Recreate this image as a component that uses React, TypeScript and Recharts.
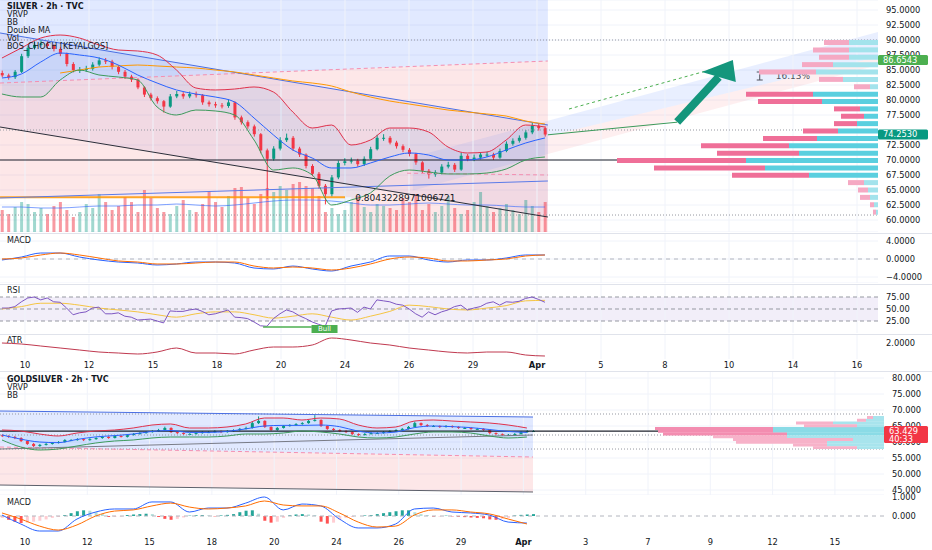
import React from "react"
import {
  ComposedChart,
  BarChart,
  Bar,
  Line,
  Area,
  XAxis,
  YAxis,
  CartesianGrid,
  ReferenceLine,
  ReferenceDot,
  ReferenceArea,
  Cell,
} from "recharts"

const W = 932
const FONT = "'DejaVu Sans', Verdana, sans-serif"
const INK = "#131722"
const UP = "#089981"
const DOWN = "#f23645"
const GRID = "#f0f3fa"
const ARROW = "#14967c"

// ---------- SILVER · 2h ----------
const silverTimeLabels = ["10", "12", "15", "18", "20", "24", "26", "29", "Apr", "5", "8", "10", "14", "16"]
// 75.0000 sits under the last-price tag, so the scale leaves it out
const silverPriceTicks = [60, 62.5, 65, 67.5, 70, 72.5, 77.5, 80, 82.5, 85, 87.5, 90, 92.5, 95]
const silverOpen0 = 84.5
const silverClose = [
  84.1, 83.8, 84.7, 87.3, 88.7, 89.2, 89.4, 89.0, 88.5, 87.7, 86.0, 85.0, 85.0, 85.2, 85.9, 86.6, 86.4, 85.5, 84.7, 83.9,
  83.4, 82.1, 80.9, 80.3, 79.8, 78.9, 80.6, 81.0, 80.6, 81.0, 80.8, 79.6, 79.3, 79.1, 79.0, 79.6, 77.1, 76.3, 75.6, 74.3,
  71.6, 70.2, 71.9, 73.3, 73.7, 71.9, 70.9, 69.0, 67.7, 65.7, 64.3, 67.1, 69.5, 69.8, 69.9, 69.3, 70.2, 71.8, 73.7, 73.7,
  72.9, 72.3, 71.7, 71.0, 69.6, 68.2, 67.6, 67.9, 68.9, 69.2, 68.4, 70.7, 70.1, 70.4, 70.9, 70.9, 70.4, 71.5, 72.7, 73.2,
  73.7, 74.6, 75.7, 75.3, 74.25,
]
const silverHigh = [
  84.9, 84.4, 85.0, 87.7, 89.1, 89.8, 90.0, 89.8, 89.3, 88.8, 87.9, 86.3, 85.5, 85.7, 86.3, 87.1, 87.0, 86.7, 85.8, 85.0,
  84.2, 83.6, 82.3, 81.2, 80.6, 80.0, 81.0, 81.5, 81.3, 81.4, 81.4, 81.0, 79.9, 79.7, 79.5, 80.1, 79.8, 77.4, 76.6, 75.9,
  74.5, 71.9, 72.3, 73.8, 74.4, 74.0, 72.2, 71.1, 69.3, 68.0, 66.0, 67.5, 69.9, 70.3, 70.4, 70.2, 70.6, 72.2, 74.2, 74.3,
  74.0, 73.2, 72.6, 72.0, 71.2, 69.8, 68.5, 68.3, 69.3, 69.7, 69.5, 71.2, 71.0, 70.9, 71.3, 71.4, 71.2, 71.9, 73.1, 73.6,
  74.1, 75.0, 76.2, 76.1, 75.6,
]
const silverLow = [
  83.8, 83.4, 83.5, 84.5, 87.0, 88.4, 88.9, 88.6, 88.1, 87.3, 85.6, 84.6, 84.5, 84.7, 84.9, 85.6, 86.0, 85.1, 84.3, 83.5,
  83.0, 81.8, 80.5, 79.9, 79.4, 77.9, 78.7, 80.3, 80.2, 80.3, 80.4, 79.2, 78.9, 78.7, 78.6, 78.7, 76.7, 75.9, 75.2, 73.9,
  71.1, 63.5, 69.9, 71.6, 73.0, 71.5, 70.5, 68.6, 67.3, 65.2, 62.6, 63.9, 66.8, 69.1, 69.4, 68.9, 69.0, 70.0, 71.6, 73.2,
  72.6, 71.9, 71.3, 70.6, 69.2, 67.8, 66.9, 67.2, 67.6, 68.6, 68.0, 68.2, 69.8, 69.8, 70.1, 70.5, 70.0, 70.2, 71.3, 72.4,
  72.9, 73.4, 74.3, 74.9, 73.9,
]
const silverVolume = [
  22, 18, 25, 30, 28, 20, 24, 18, 26, 30, 22, 15, 20, 28, 24, 38, 30, 22, 26, 35,
  30, 20, 42, 34, 24, 20, 18, 26, 32, 22, 20, 28, 40, 30, 25, 36, 44, 45, 34, 28,
  38, 44, 40, 46, 42, 48, 50, 46, 44, 36, 20, 24, 18, 22, 30, 36, 25, 20, 28, 26,
  24, 22, 34, 30, 38, 22, 28, 20, 26, 36, 24, 18, 22, 30, 40, 26, 20, 24, 28, 22,
  18, 32, 26, 20, 30,
]
const silverRsi = [
  52, 52, 55, 65, 73, 75, 69, 73, 65, 64, 52, 38, 42, 44, 52, 54, 40, 40, 42, 35,
  33, 27, 28, 29, 25, 21, 46, 45, 45, 48, 50, 45, 38, 40, 44, 48, 33, 32, 30, 23,
  15, 14, 30, 40, 48, 44, 36, 30, 23, 18, 14, 46, 50, 51, 52, 43, 54, 50, 69, 67,
  65, 60, 58, 50, 40, 33, 44, 38, 44, 48, 55, 58, 48, 52, 55, 62, 65, 58, 65, 64,
  66, 72, 75, 70, 64,
]
// indicator samples, one every third candle
const silverBBUpper = [87.0, 88.67, 90.33, 90.83, 90.33, 89.17, 88.33, 88.17, 87.5, 85.0, 82.0, 81.67, 81.83, 82.17, 81.33, 78.0, 75.33, 75.83, 72.5, 73.33, 75.33, 75.33, 74.67, 72.17, 71.17, 71.33, 73.33, 75.83, 75.5]
const silverBBLower = [81.0, 80.5, 80.5, 83.33, 85.0, 84.17, 83.83, 83.33, 78.83, 77.5, 78.33, 78.17, 77.5, 73.33, 68.33, 68.67, 67.5, 62.5, 63.33, 64.5, 67.33, 68.33, 68.0, 67.67, 67.67, 67.83, 68.5, 70.0, 70.5]
const silverFastMA = [83.67, 84.33, 86.33, 87.83, 87.5, 87.0, 85.83, 84.17, 82.83, 81.67, 81.0, 80.5, 79.67, 77.0, 74.17, 71.67, 70.33, 68.67, 68.67, 69.5, 70.5, 71.17, 70.83, 70.0, 70.0, 70.5, 71.67, 72.83, 73.67]
const silverSlowMA = [null, null, null, 84.5, 85.0, 85.5, 85.67, 85.83, 85.67, 85.5, 85.33, 85.0, 84.67, 84.17, 83.67, 83.17, 82.83, 82.33, 81.33, 80.5, 79.83, 79.33, 78.83, 78.33, 78.0, 77.67, 77.33, 76.5, 76.0]
const silverVolMA = [25, 25, 24, 24, 25, 26, 26, 27, 27, 28, 27, 26, 27, 29, 31, 32, 32, 31, 29, 27, 27, 28, 29, 28, 27, 27, 26, 25, 25]
const silverMacd = [-0.22, 0.44, 1.33, 1.33, 0.44, -0.22, -0.67, -0.89, -1.33, -1.11, -0.67, -0.67, -0.89, -2.0, -2.22, -1.56, -2.22, -2.67, -1.56, -0.67, 0.67, 0.67, -0.22, -0.67, -0.22, -0.22, 0.22, 0.89, 0.89]
const silverSignal = [0, 0.22, 0.89, 1.33, 0.89, 0.22, -0.44, -0.67, -1.11, -1.11, -0.89, -0.67, -0.67, -1.56, -2.0, -1.78, -2.0, -2.44, -2.0, -1.11, 0, 0.44, 0.22, -0.44, -0.44, -0.22, 0, 0.67, 0.89]
const silverRsiMA = [50, 55, 62, 62, 58, 52, 48, 44, 38, 33, 40, 44, 44, 38, 31, 35, 40, 33, 27, 35, 45, 58, 55, 50, 48, 52, 57, 67, 68]
const silverAtr = [2.0, 1.95, 1.85, 1.75, 1.65, 1.55, 1.5, 1.45, 1.55, 1.75, 1.5, 1.5, 1.45, 1.65, 1.8, 1.8, 1.9, 2.25, 2.15, 2.0, 1.9, 1.75, 1.65, 1.55, 1.5, 1.55, 1.55, 1.4, 1.35]
// visible range volume profile, rows from top to bottom
const silverProfileLevels = [89.5, 88.3, 87.0, 85.8, 84.6, 83.4, 82.1, 80.9, 79.7, 78.4, 77.2, 76.0, 74.8, 73.5, 72.3, 71.1, 69.8, 68.6, 67.4, 66.2, 64.9, 63.7, 62.5, 61.3]
const silverProfileBuy = [29, 29, 29, 45, 62, 35, 8, 65, 56, 18, 14, 21, 40, 61, 89, 79, 132, 113, 69, 14, 10, 8, 4, 2]
const silverProfileSell = [25, 36, 30, 31, 57, 24, 16, 67, 64, 26, 23, 23, 35, 54, 88, 82, 129, 111, 77, 16, 10, 10, 4, 3]
// drawings (x in time-axis slots, y in price)
const fallTop = [[-0.39, 91.17], [8.17, 75.83]]
const fallBottom = [[-0.39, 75.5], [8.17, 60.5]]
const zoneEdge = [[-0.39, 82.83], [8.17, 86.5]]
const zoneEdgeLow = [[5.97, 67.8], [8.17, 67.5]]
const riseTop = [[6.06, 70.5], [13.33, 91.33]]
const riseBottom = [[5.97, 64.67], [13.33, 85.83]]
const riseMid = [[8.17, 74.0], [13.33, 87.2]]
const riseTarget = [[8.5, 78.5], [10.9, 85.6]]
const maExtension = [[8.17, 74.2], [10.19, 76.3]]
const orangeLevel = [[-0.39, 63.8], [5.0, 63.8]]
const blueLevel = [[-0.39, 63.67], [8.17, 66.5]]
const arrowShaft = [[10.19, 76.33], [10.84, 83.83]]
const arrowTip = [11.06, 86.67]
const fibLabel = [5.16, 63.67]
const measureLabel = [11.73, 84.0]
const bullLine = [[3.72, 12.5], [4.48, 12.5]]
const bullLabel = [4.68, 8.3]
const silverDotted = [90, 75, 60.83]
const silverLast = 74.253
const silverTarget = 86.6543

// ---------- GOLDSILVER · 2h ----------
const goldTimeLabels = ["10", "12", "15", "18", "20", "24", "26", "29", "Apr", "3", "7", "9", "12", "15"]
const goldPriceTicks = [45, 50, 55, 60, 65, 70, 75, 80]
const goldOpen0 = 62.1
const goldClose = [
  61.9, 61.6, 61.25, 60.3, 59.4, 58.75, 59.1, 59.4, 59.7, 60.0, 60.6, 60.6, 60.9, 60.6, 60.9, 61.25, 61.6, 61.25, 61.9, 61.6,
  62.2, 62.5, 62.8, 63.1, 63.4, 63.75, 64.4, 63.1, 62.8, 62.5, 62.5, 62.8, 63.1, 63.1, 63.4, 63.1, 63.4, 63.75, 64.1, 64.4,
  65.9, 66.6, 64.7, 63.75, 64.4, 65.0, 65.3, 65.6, 65.9, 66.6, 66.9, 65.0, 64.1, 63.75, 63.4, 63.1, 62.5, 62.2, 62.5, 62.8,
  62.8, 63.1, 63.4, 63.75, 64.1, 64.7, 65.9, 65.3, 65.0, 65.0, 64.7, 65.0, 64.7, 64.4, 64.4, 64.1, 64.1, 63.75, 62.8, 62.5,
  62.2, 62.2, 62.5, 63.1, 63.4, 63.43,
]
const goldHigh = [
  62.4, 62.1, 61.9, 61.5, 60.5, 59.7, 59.4, 59.7, 60.0, 60.3, 60.9, 60.9, 61.2, 61.1, 61.2, 61.5, 61.9, 61.8, 62.2, 62.1,
  62.5, 62.8, 63.1, 63.4, 63.7, 64.1, 64.8, 64.6, 63.3, 63.0, 62.8, 63.1, 63.4, 63.4, 63.7, 63.6, 63.7, 64.0, 64.4, 64.8,
  66.3, 68.0, 66.8, 64.9, 64.7, 65.3, 65.6, 65.9, 66.2, 66.9, 68.4, 67.1, 65.2, 64.4, 64.0, 63.7, 63.3, 62.7, 62.8, 63.1,
  63.1, 63.4, 63.7, 64.0, 64.4, 65.0, 66.4, 66.1, 65.6, 65.3, 65.2, 65.3, 65.2, 64.9, 64.7, 64.6, 64.4, 64.3, 64.0, 63.0,
  62.7, 62.5, 62.8, 63.4, 63.7, 63.7,
]
const goldLow = [
  61.6, 61.3, 60.9, 60.0, 59.1, 58.4, 58.5, 58.9, 59.2, 59.5, 59.8, 60.3, 60.4, 60.3, 60.4, 60.7, 61.0, 61.0, 61.1, 61.4,
  61.4, 62.0, 62.3, 62.6, 62.9, 63.2, 63.6, 62.8, 62.5, 62.2, 62.2, 62.3, 62.6, 62.8, 62.9, 62.8, 62.9, 63.2, 63.5, 63.9,
  64.2, 65.6, 64.4, 63.4, 63.5, 64.2, 64.8, 65.1, 65.4, 65.7, 66.4, 64.7, 63.8, 63.5, 63.1, 62.8, 62.2, 61.9, 62.0, 62.3,
  62.5, 62.6, 62.9, 63.2, 63.5, 63.9, 64.5, 65.0, 64.7, 64.7, 64.4, 64.5, 64.4, 64.1, 64.1, 63.8, 63.8, 63.5, 62.5, 62.2,
  61.9, 61.9, 62.0, 62.3, 62.9, 63.2,
]
const goldHist = [
  -0.1, -0.2, -0.3, -0.37, -0.35, -0.3, -0.25, -0.18, -0.1, -0.05, 0.05, 0.15, 0.25, 0.3, 0.28, 0.2, 0.1, -0.05, -0.05, -0.03,
  0.05, 0.08, 0.1, 0.12, 0.1, -0.05, -0.15, -0.2, -0.15, -0.08, 0.02, 0.04, 0.05, 0.03, -0.02, 0.03, 0.06, 0.1, 0.2, 0.28,
  0.3, 0.12, -0.25, -0.35, -0.3, -0.1, 0.04, 0.08, 0.1, 0.08, 0.05, -0.3, -0.4, -0.35, -0.2, -0.1, -0.05, 0.0, 0.03, 0.05,
  0.1, 0.15, 0.2, 0.25, 0.3, 0.3, 0.2, 0.1, 0.05, -0.03, -0.03, 0.02, -0.02, -0.04, -0.06, -0.08, -0.1, -0.12, -0.18, -0.2,
  -0.15, -0.1, 0.03, 0.06, 0.08, 0.1,
]
const goldBBUpper = [63.75, 63.44, 62.5, 61.88, 62.81, 63.44, 63.75, 64.38, 65.31, 65.63, 64.38, 64.38, 64.69, 65.63, 67.5, 67.5, 66.88, 67.5, 67.19, 65.31, 64.38, 64.69, 66.56, 66.88, 66.56, 66.25, 65.94, 65.31, 64.38]
const goldBBLower = [60.63, 58.44, 57.5, 57.81, 58.75, 59.69, 60.31, 60.63, 61.25, 61.56, 61.56, 61.56, 61.88, 62.5, 62.5, 62.81, 63.44, 63.13, 62.5, 61.56, 61.25, 61.56, 62.5, 63.13, 63.13, 62.81, 61.88, 61.25, 61.56]
const goldBBMid = [62.2, 60.9, 60.0, 59.8, 60.8, 61.6, 62.0, 62.5, 63.3, 63.6, 63.0, 63.0, 63.3, 64.1, 65.0, 65.2, 65.2, 65.3, 64.8, 63.4, 62.8, 63.1, 64.5, 65.0, 64.8, 64.5, 63.9, 63.3, 63.0]
const goldMacd = [0.05, -0.42, -0.79, -0.79, -0.16, 0.21, 0.37, 0.37, 0.74, 0.74, 0.21, 0.42, 0.42, 0.68, 1.0, 0.32, 0.63, 0.53, -0.16, -0.63, -0.63, -0.42, 0.37, 0.42, 0.21, 0.16, 0.05, -0.32, -0.37]
const goldSignal = [0.16, -0.16, -0.53, -0.74, -0.47, 0.0, 0.26, 0.32, 0.53, 0.68, 0.47, 0.37, 0.42, 0.53, 0.79, 0.58, 0.53, 0.53, 0.16, -0.32, -0.58, -0.53, 0.05, 0.32, 0.32, 0.21, 0.11, -0.16, -0.42]
const goldProfileLevels = [67.8, 66.9, 66.1, 65.3, 64.4, 63.6, 62.8, 61.9, 61.1, 60.3, 59.4, 58.6]
const goldProfileBuy = [11, 18, 51, 27, 111, 111, 97, 97, 31, 57, 57, 27]
const goldProfileSell = [6, 9, 37, 53, 118, 115, 124, 74, 120, 91, 34, 44]
const goldZoneTop = [[-0.401, 69.69], [8.154, 67.81]]
const goldZoneEdge = [[-0.401, 58.44], [8.154, 55.31]]
const goldZoneBottom = [[-0.401, 46.56], [8.154, 44.38]]
const goldRiseLine = [[-0.401, 57.81], [8.154, 62.19]]
const goldDotted = [68.75, 62.19, 57.81]
const goldLast = 63.429

// ---------- layout ----------
const slotTicks = [0, 1, 2, 3, 4, 5, 6, 7, 8, 9, 10, 11, 12, 13]
const S_X: [number, number] = [-0.3906, 13.328]
const S_Y: [number, number] = [58, 96.667]
const G_X: [number, number] = [-0.401, 13.788]
const G_Y: [number, number] = [43.44, 82.19]
const S_START = -0.36
const S_STEP = 0.101
const G_START = -0.369
const G_STEP = 0.1003
const NO_MARGIN = { top: 0, right: 0, bottom: 0, left: 0 }
const S_PLOT = { top: 0, right: 54, bottom: 0, left: 0 }
const G_PLOT = { top: 0, right: 48, bottom: 0, left: 0 }

function buildCandles(open0: number, close: number[], high: number[], low: number[], start: number, step: number) {
  return close.map((c, i) => ({
    x: start + i * step,
    o: i === 0 ? open0 : close[i - 1],
    c,
    h: high[i],
    l: low[i],
    range: [low[i], high[i]],
  }))
}

const silverCandles = buildCandles(silverOpen0, silverClose, silverHigh, silverLow, S_START, S_STEP).map((d, i) => ({
  ...d,
  vol: silverVolume[i],
  rsi: silverRsi[i],
}))
const silverSamples = silverBBUpper.map((u, k) => ({
  x: S_START + 3 * k * S_STEP,
  up: u,
  lo: silverBBLower[k],
  band: [silverBBLower[k], u],
  ma: silverFastMA[k],
  slow: silverSlowMA[k],
  volMa: silverVolMA[k],
  macd: silverMacd[k],
  signal: silverSignal[k],
  rsiMa: silverRsiMA[k],
  atr: silverAtr[k],
}))
const goldCandles = buildCandles(goldOpen0, goldClose, goldHigh, goldLow, G_START, G_STEP).map((d, i) => ({
  ...d,
  hist: goldHist[i],
}))
const goldSamples = goldBBUpper.map((u, k) => ({
  x: G_START + 3 * k * G_STEP,
  up: u,
  lo: goldBBLower[k],
  band: [goldBBLower[k], u],
  mid: goldBBMid[k],
  macd: goldMacd[k],
  signal: goldSignal[k],
}))
const silverProfile = silverProfileLevels.map((p, i) => ({ p, buy: silverProfileBuy[i], sell: silverProfileSell[i] }))
const goldProfile = goldProfileLevels.map((p, i) => ({ p, buy: goldProfileBuy[i], sell: goldProfileSell[i] }))

const seg = (pts: number[][]) => pts.map(([x, y]) => ({ x, y }))
const band = (lower: number[][], upper: number[][]) =>
  lower.map(([x, lo], i) => ({ x, v: [lo, upper[i][1]] }))

const axisTick = { fontSize: 8.3, fill: INK, fontFamily: FONT }

function CandleShape(props: any) {
  const { x, y, width, height, payload } = props
  if (!payload || !isFinite(y) || !isFinite(height)) return <g />
  const top = Math.min(y, y + height)
  const span = Math.abs(height)
  const ppu = payload.h - payload.l > 0 ? span / (payload.h - payload.l) : 0
  const bodyTop = top + (payload.h - Math.max(payload.o, payload.c)) * ppu
  const bodyBottom = top + (payload.h - Math.min(payload.o, payload.c)) * ppu
  const color = payload.c >= payload.o ? UP : DOWN
  const cx = x + width / 2
  return (
    <g>
      <line x1={cx} x2={cx} y1={top} y2={top + span} stroke={color} strokeWidth={1} />
      <rect x={x} y={bodyTop} width={width} height={Math.max(1, bodyBottom - bodyTop)} fill={color} />
    </g>
  )
}

function PriceTag({ viewBox, text, sub, fill, width = 50 }: any) {
  if (!viewBox) return null
  const x = viewBox.x + viewBox.width
  const y = viewBox.y
  return (
    <g>
      <rect x={x} y={y - 5} width={width} height={sub ? 17 : 10} rx={1.5} fill={fill} />
      <text x={x + 5} y={y} dy="0.35em" fontSize={8.3} fill="#fff" fontFamily={FONT}>
        {text}
      </text>
      {sub && (
        <text x={x + 5} y={y + 8} dy="0.35em" fontSize={8.3} fill="#fff" fontFamily={FONT}>
          {sub}
        </text>
      )}
    </g>
  )
}

const timeTick = (labels: string[]) => (p: any) => {
  const label = labels[p.payload.value] ?? ""
  return (
    <text x={p.x} y={p.y} dy="0.71em" textAnchor="middle" fontSize={8.3} fontFamily={FONT} fill={INK} fontWeight={label === "Apr" ? 700 : 400}>
      {label}
    </text>
  )
}

const fmt = (d: number) => (v: number) => (v < 0 ? "\u2212" + Math.abs(v).toFixed(d) : v.toFixed(d))

const Layer = ({ top, children }: any) => <div style={{ position: "absolute", left: 0, top }}>{children}</div>

function Legend({ top, lines, bold }: { top: number; lines: string[]; bold?: boolean }) {
  return (
    <div style={{ position: "absolute", left: 7, top, fontSize: 8, lineHeight: "8px", color: INK, fontFamily: FONT, whiteSpace: "nowrap" }}>
      {lines.map((l, i) => (
        <div key={l} style={{ fontWeight: bold && i === 0 ? 700 : 400 }}>
          {l}
        </div>
      ))}
    </div>
  )
}

function ProfileChart({ data, width, height, strong, gap, colors }: { data: any[]; width: number; height: number; strong: [number, number]; gap: number; colors: string[] }) {
  const isStrong = (i: number) => i >= strong[0] && i <= strong[1]
  return (
    <BarChart layout="vertical" width={width} height={height} data={data} margin={NO_MARGIN} barCategoryGap={gap}>
      <XAxis type="number" domain={[0, width]} reversed hide allowDataOverflow />
      <YAxis type="category" dataKey="p" hide />
      <Bar dataKey="buy" stackId="vp" isAnimationActive={false}>
        {data.map((_, i) => (
          <Cell key={i} fill={isStrong(i) ? colors[0] : colors[1]} />
        ))}
      </Bar>
      <Bar dataKey="sell" stackId="vp" isAnimationActive={false}>
        {data.map((_, i) => (
          <Cell key={i} fill={isStrong(i) ? colors[2] : colors[3]} />
        ))}
      </Bar>
    </BarChart>
  )
}

const lineProps = { dot: false, activeDot: false, isAnimationActive: false, strokeWidth: 1 } as const
const fillProps = { type: "linear", stroke: "none", dot: false, activeDot: false, isAnimationActive: false } as const

export default function App() {
  return (
    <div style={{ position: "absolute", left: 0, top: 0, width: W, height: 550, background: "#fff", overflow: "hidden", fontFamily: FONT }}>
      {/* SILVER price pane: zones and price scale */}
      <Layer top={0}>
        <ComposedChart width={W} height={232} data={silverCandles} margin={NO_MARGIN}>
          <CartesianGrid stroke={GRID} vertical={false} />
          <XAxis type="number" dataKey="x" domain={S_X} allowDataOverflow hide />
          <YAxis orientation="right" width={54} domain={S_Y} allowDataOverflow ticks={silverPriceTicks} interval={0} tickFormatter={fmt(4)} tick={axisTick} axisLine={false} tickLine={false} tickSize={6} tickMargin={2} />
          {slotTicks.map((t) => (
            <ReferenceLine key={t} x={t} stroke={GRID} />
          ))}
          <Area {...fillProps} data={band(zoneEdge, [[-0.39, 96.67], [8.17, 96.67]])} dataKey="v" fill="#2962ff" fillOpacity={0.14} />
          <Area {...fillProps} data={band([[-0.39, 63.8], [5.1, 63.8]], [[-0.39, 82.83], [5.1, 85.18]])} dataKey="v" fill={DOWN} fillOpacity={0.12} />
          <Area {...fillProps} data={band([[5.1, 58], [8.17, 58]], [[5.1, 85.18], [8.17, 86.5]])} dataKey="v" fill={DOWN} fillOpacity={0.12} />
          <Area {...fillProps} data={band(fallBottom, fallTop)} dataKey="v" fill="#673ab7" fillOpacity={0.08} />
          <Area {...fillProps} data={band([[6.06, 64.93], [8.17, 70.99]], [[6.06, 70.5], [8.17, 76.55]])} dataKey="v" fill="#2962ff" fillOpacity={0.08} />
          <Area {...fillProps} data={band(riseMid, [[8.17, 76.55], [13.33, 91.33]])} dataKey="v" fill="#2962ff" fillOpacity={0.1} />
          <Area {...fillProps} data={band([[8.17, 70.99], [13.33, 85.83]], riseMid)} dataKey="v" fill={DOWN} fillOpacity={0.08} />
        </ComposedChart>
      </Layer>

      {/* volume */}
      <Layer top={0}>
        <ComposedChart width={W} height={232} data={silverCandles} margin={S_PLOT}>
          <XAxis type="number" dataKey="x" domain={S_X} allowDataOverflow hide />
          <YAxis domain={[0, 232]} allowDataOverflow hide />
          <Bar dataKey="vol" barSize={3} isAnimationActive={false}>
            {silverCandles.map((d, i) => (
              <Cell key={i} fill={d.c >= d.o ? "rgba(8,153,129,0.38)" : "rgba(242,54,69,0.5)"} />
            ))}
          </Bar>
          <Line {...lineProps} data={silverSamples} dataKey="volMa" type="monotone" stroke="#2962ff" strokeOpacity={0.6} />
        </ComposedChart>
      </Layer>

      {/* candles, bands, drawings */}
      <Layer top={0}>
        <ComposedChart width={W} height={232} data={silverCandles} margin={S_PLOT}>
          <XAxis type="number" dataKey="x" domain={S_X} allowDataOverflow hide />
          <YAxis domain={S_Y} allowDataOverflow hide />
          <Area {...fillProps} data={silverSamples} dataKey="band" type="monotone" fill="#2196f3" fillOpacity={0.08} />
          {silverDotted.map((y) => (
            <ReferenceLine key={y} y={y} stroke="#9598a1" strokeDasharray="1 2" />
          ))}
          <ReferenceLine y={70} stroke="#1e222d" strokeWidth={1.2} />
          <ReferenceLine segment={seg(orangeLevel)} stroke="#ff9800" strokeWidth={2} strokeOpacity={0.85} />
          <ReferenceLine segment={seg(blueLevel)} stroke="#5b7be8" strokeWidth={1} />
          <ReferenceLine segment={seg(zoneEdge)} stroke="#f48fb1" strokeDasharray="4 3" />
          <ReferenceLine segment={seg(zoneEdgeLow)} stroke="#f48fb1" strokeDasharray="4 3" />
          <ReferenceLine segment={seg(fallTop)} stroke="#4a6fe3" strokeWidth={1} />
          <ReferenceLine segment={seg(fallBottom)} stroke="#2a2e39" strokeWidth={1} />
          <ReferenceLine segment={seg(riseTop)} stroke="#4a6fe3" strokeWidth={1} />
          <ReferenceLine segment={seg(riseBottom)} stroke="#2a2e39" strokeWidth={1} />
          <ReferenceLine segment={seg(riseMid)} stroke="#ef5f8c" strokeDasharray="4 3" />
          <ReferenceLine segment={seg(riseTarget)} stroke="#4caf50" strokeDasharray="3 3" />
          <ReferenceLine segment={seg(maExtension)} stroke="#3d9a5b" strokeWidth={1} />
          <Line {...lineProps} data={silverSamples} dataKey="slow" type="monotone" stroke="#ff9800" />
          <Line {...lineProps} data={silverSamples} dataKey="ma" type="monotone" stroke="#2962ff" />
          <Line {...lineProps} data={silverSamples} dataKey="up" type="monotone" stroke="#e0314b" />
          <Line {...lineProps} data={silverSamples} dataKey="lo" type="monotone" stroke="#3d9a5b" />
          <Bar dataKey="range" barSize={3} shape={CandleShape} isAnimationActive={false} />
          <ReferenceLine segment={seg(arrowShaft)} stroke={ARROW} strokeWidth={8} />
          <ReferenceDot
            x={arrowTip[0]}
            y={arrowTip[1]}
            r={0}
            shape={(p: any) => <polygon points={`${p.cx},${p.cy} ${p.cx - 31},${p.cy + 12} ${p.cx + 3},${p.cy + 22}`} fill={ARROW} />}
          />
          <ReferenceDot
            x={fibLabel[0]}
            y={fibLabel[1]}
            r={0}
            shape={(p: any) => (
              <text x={p.cx} y={p.cy} dy="0.35em" fontSize={9} fill={INK} fontFamily={FONT}>
                0.8043228971006721
              </text>
            )}
          />
          <ReferenceDot
            x={measureLabel[0]}
            y={measureLabel[1]}
            r={0}
            shape={(p: any) => (
              <g>
                <path d={`M${p.cx - 19},${p.cy - 4} h6 M${p.cx - 16},${p.cy - 4} v8 M${p.cx - 19},${p.cy + 4} h6`} stroke="#50535e" strokeWidth={1} />
                <text x={p.cx} y={p.cy} dy="0.35em" fontSize={9} fill="#50535e" fontFamily={FONT}>
                  16.13%
                </text>
              </g>
            )}
          />
          <ReferenceLine y={silverTarget} stroke="none" label={<PriceTag text="86.6543" fill="#4caf50" />} />
          <ReferenceLine y={silverLast} stroke="none" label={<PriceTag text="74.2530" fill={UP} />} />
        </ComposedChart>
      </Layer>

      {/* SILVER volume profile */}
      <Layer top={39}>
        <ProfileChart data={silverProfile} width={878} height={177} strong={[7, 18]} gap={1} colors={["#5acfdf", "#a3e3ec", "#ef6f98", "#f5a9c3"]} />
      </Layer>

      {/* SILVER MACD */}
      <Layer top={233}>
        <ComposedChart width={W} height={50} data={silverSamples} margin={NO_MARGIN}>
          <CartesianGrid stroke={GRID} vertical={false} />
          <XAxis type="number" dataKey="x" domain={S_X} allowDataOverflow hide />
          <YAxis orientation="right" width={54} domain={[-5.333, 5.778]} allowDataOverflow ticks={[-4, 0, 4]} interval={0} tickFormatter={fmt(4)} tick={axisTick} axisLine={false} tickLine={false} tickSize={6} tickMargin={2} />
          {slotTicks.map((t) => (
            <ReferenceLine key={t} x={t} stroke={GRID} />
          ))}
          <ReferenceLine y={0} stroke="#b2b5be" strokeDasharray="4 4" />
          <Line {...lineProps} dataKey="macd" type="monotone" stroke="#2962ff" />
          <Line {...lineProps} dataKey="signal" type="monotone" stroke="#ff6d00" />
        </ComposedChart>
      </Layer>

      {/* SILVER RSI */}
      <Layer top={285}>
        <ComposedChart width={W} height={48} data={silverCandles} margin={NO_MARGIN}>
          <XAxis type="number" dataKey="x" domain={S_X} allowDataOverflow hide />
          <YAxis orientation="right" width={54} domain={[0, 100]} allowDataOverflow ticks={[25, 50, 75]} interval={0} tickFormatter={fmt(2)} tick={axisTick} axisLine={false} tickLine={false} tickSize={6} tickMargin={2} />
          {slotTicks.map((t) => (
            <ReferenceLine key={t} x={t} stroke={GRID} />
          ))}
          <ReferenceArea y1={25} y2={75} fill="#7e57c2" fillOpacity={0.1} stroke="none" />
          {[25, 50, 75].map((y) => (
            <ReferenceLine key={y} y={y} stroke="#9598a1" strokeDasharray="4 3" />
          ))}
          <Line {...lineProps} data={silverSamples} dataKey="rsiMa" type="monotone" stroke="#f5c542" />
          <Line {...lineProps} dataKey="rsi" type="linear" stroke="#7e57c2" />
          <ReferenceLine segment={seg(bullLine)} stroke="#4caf50" strokeWidth={1.5} />
          <ReferenceDot
            x={bullLabel[0]}
            y={bullLabel[1]}
            r={0}
            shape={(p: any) => (
              <g>
                <rect x={p.cx - 13} y={p.cy - 4} width={26} height={8} fill="#4caf50" />
                <text x={p.cx} y={p.cy} dy="0.35em" textAnchor="middle" fontSize={7} fill="#fff" fontFamily={FONT}>
                  Bull
                </text>
              </g>
            )}
          />
        </ComposedChart>
      </Layer>

      {/* SILVER ATR + time axis */}
      <Layer top={335}>
        <ComposedChart width={W} height={38} data={silverSamples} margin={NO_MARGIN}>
          <XAxis type="number" dataKey="x" domain={S_X} allowDataOverflow ticks={slotTicks} interval={0} tick={timeTick(silverTimeLabels)} axisLine={false} tickLine={false} tickSize={0} tickMargin={3} height={14} />
          <YAxis orientation="right" width={54} domain={[1.2, 2.4]} allowDataOverflow ticks={[2]} interval={0} tickFormatter={fmt(4)} tick={axisTick} axisLine={false} tickLine={false} tickSize={6} tickMargin={2} />
          {slotTicks.map((t) => (
            <ReferenceLine key={t} x={t} stroke={GRID} />
          ))}
          <Line {...lineProps} dataKey="atr" type="monotone" stroke="#c0394f" />
        </ComposedChart>
      </Layer>

      {/* GOLDSILVER price pane */}
      <Layer top={371}>
        <ComposedChart width={W} height={124} data={goldCandles} margin={NO_MARGIN}>
          <CartesianGrid stroke={GRID} vertical={false} />
          <XAxis type="number" dataKey="x" domain={G_X} allowDataOverflow hide />
          <YAxis orientation="right" width={48} domain={G_Y} allowDataOverflow ticks={goldPriceTicks} interval={0} tickFormatter={fmt(3)} tick={axisTick} axisLine={false} tickLine={false} tickSize={6} tickMargin={2} />
          {slotTicks.map((t) => (
            <ReferenceLine key={t} x={t} stroke={GRID} />
          ))}
          <Area {...fillProps} data={band(goldZoneEdge, goldZoneTop)} dataKey="v" fill="#2962ff" fillOpacity={0.14} />
          <Area {...fillProps} data={band(goldZoneBottom, goldZoneEdge)} dataKey="v" fill={DOWN} fillOpacity={0.12} />
        </ComposedChart>
      </Layer>
      <Layer top={371}>
        <ComposedChart width={W} height={124} data={goldCandles} margin={G_PLOT}>
          <XAxis type="number" dataKey="x" domain={G_X} allowDataOverflow hide />
          <YAxis domain={G_Y} allowDataOverflow hide />
          <Area {...fillProps} data={goldSamples} dataKey="band" type="monotone" fill="#2196f3" fillOpacity={0.1} />
          {goldDotted.map((y) => (
            <ReferenceLine key={y} y={y} stroke="#9598a1" strokeDasharray="1 2" />
          ))}
          <ReferenceLine segment={seg(goldZoneTop)} stroke="#4a6fe3" />
          <ReferenceLine segment={seg(goldZoneEdge)} stroke="#f48fb1" strokeDasharray="4 3" />
          <ReferenceLine segment={seg(goldZoneBottom)} stroke="#5d606b" />
          <ReferenceLine segment={seg(goldRiseLine)} stroke="#787b86" />
          <ReferenceLine y={goldLast} stroke="#1e222d" strokeWidth={1.2} />
          <Line {...lineProps} data={goldSamples} dataKey="mid" type="monotone" stroke="#2962ff" />
          <Line {...lineProps} data={goldSamples} dataKey="up" type="monotone" stroke="#e0314b" />
          <Line {...lineProps} data={goldSamples} dataKey="lo" type="monotone" stroke="#3d9a5b" />
          <Bar dataKey="range" barSize={3} shape={CandleShape} isAnimationActive={false} />
        </ComposedChart>
      </Layer>
      <Layer top={416}>
        <ProfileChart data={goldProfile} width={884} height={33} strong={[4, 6]} gap={0} colors={["#8adbe6", "#a8e4ed", "#f38db0", "#f7b2c9"]} />
      </Layer>
      {/* last price tag drawn above the profile */}
      <Layer top={371}>
        <ComposedChart width={W} height={124} data={goldCandles} margin={G_PLOT}>
          <XAxis type="number" dataKey="x" domain={G_X} allowDataOverflow hide />
          <YAxis domain={G_Y} allowDataOverflow hide />
          <ReferenceLine y={goldLast} stroke="none" label={<PriceTag text="63.429" sub="40:33" fill={DOWN} width={44} />} />
        </ComposedChart>
      </Layer>

      {/* GOLDSILVER MACD + time axis */}
      <Layer top={490}>
        <ComposedChart width={W} height={60} data={goldCandles} margin={NO_MARGIN}>
          <XAxis type="number" dataKey="x" domain={G_X} allowDataOverflow ticks={slotTicks} interval={0} tick={timeTick(goldTimeLabels)} axisLine={false} tickLine={false} tickSize={0} tickMargin={3} height={14} />
          <YAxis orientation="right" width={48} domain={[-1.053, 1.369]} allowDataOverflow ticks={[0, 1]} interval={0} tickFormatter={fmt(3)} tick={axisTick} axisLine={false} tickLine={false} tickSize={6} tickMargin={2} />
          <ReferenceLine y={0} stroke="#b2b5be" strokeDasharray="4 4" />
          <Bar dataKey="hist" barSize={3} isAnimationActive={false}>
            {goldCandles.map((d, i) => {
              const prev = i > 0 ? goldCandles[i - 1].hist : d.hist
              const fill = d.hist >= 0 ? (d.hist >= prev ? "#26a69a" : "#b2dfdb") : d.hist < prev ? "#ff5252" : "#ffcdd2"
              return <Cell key={i} fill={fill} />
            })}
          </Bar>
          <Line {...lineProps} data={goldSamples} dataKey="macd" type="monotone" stroke="#2962ff" />
          <Line {...lineProps} data={goldSamples} dataKey="signal" type="monotone" stroke="#ff6d00" />
        </ComposedChart>
      </Layer>

      {/* pane separators */}
      {[233, 284, 334, 371].map((y) => (
        <div key={y} style={{ position: "absolute", left: 0, top: y, width: W, height: 1, background: "#e0e3eb" }} />
      ))}

      <Legend top={3} bold lines={["SILVER \u00b7 2h \u00b7 TVC", "VRVP", "BB", "Double MA", "Vol", "BOS_CHOCH [KEYALGOS]"]} />
      <Legend top={237} lines={["MACD"]} />
      <Legend top={287} lines={["RSI"]} />
      <Legend top={337} lines={["ATR"]} />
      <Legend top={376} bold lines={["GOLDSILVER \u00b7 2h \u00b7 TVC", "VRVP", "BB"]} />
      <Legend top={499} lines={["MACD"]} />
    </div>
  )
}
